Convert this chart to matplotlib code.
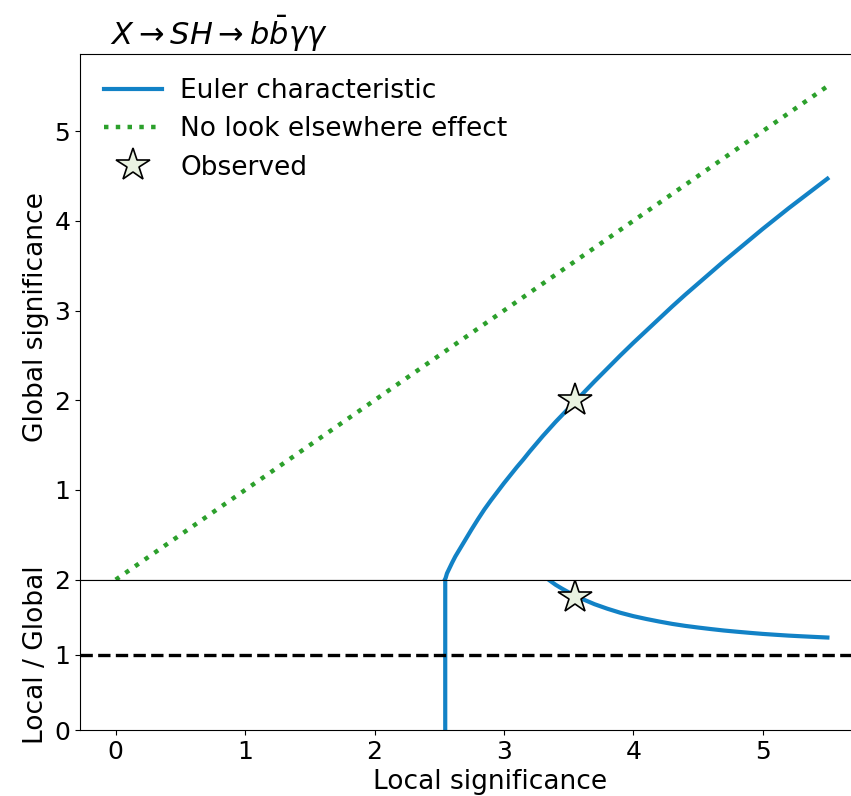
import numpy as np
import matplotlib
matplotlib.use("Agg")
import matplotlib.pyplot as plt
import matplotlib.transforms as mtransforms

# Local vs. global significance (Euler characteristic estimate)
local_sig = [2.540, 2.550, 2.560, 2.580, 2.600, 2.625, 2.650, 2.700, 2.750, 2.800,
             2.850, 2.900, 2.950, 3.000, 3.050, 3.100, 3.150, 3.200, 3.250, 3.300,
             3.350, 3.400, 3.450, 3.500, 3.550, 3.600, 3.700, 3.800, 3.900, 4.000,
             4.100, 4.200, 4.300, 4.400, 4.500, 4.600, 4.700, 4.800, 4.900, 5.000,
             5.100, 5.200, 5.300, 5.400, 5.500]
global_sig = [-0.010, 0.020, 0.070, 0.130, 0.190, 0.260, 0.320, 0.440, 0.560, 0.675,
              0.785, 0.885, 0.980, 1.075, 1.165, 1.255, 1.340, 1.430, 1.515, 1.600,
              1.680, 1.760, 1.835, 1.910, 1.990, 2.060, 2.210, 2.355, 2.500, 2.640,
              2.775, 2.910, 3.045, 3.175, 3.300, 3.425, 3.550, 3.670, 3.790, 3.910,
              4.025, 4.140, 4.250, 4.360, 4.470]

# No look-elsewhere effect: global equals local
nolee_x = [0.0, 5.5]

# Observed excess
obs_local = 3.55
obs_global = 2.00

title = r"$X \to SH \to b\bar{b}\gamma\gamma$"

blue = "#1282c6"
green = "#2ca02c"
star_face = "#e9f2e1"

local_arr = np.array(local_sig)
global_arr = np.array(global_sig)
ratio = local_arr / global_arr

W, H = 851, 796
fig = plt.figure(figsize=(W / 100, H / 100), dpi=100)

# The plotting area runs past the right edge of the canvas
x0, x1 = 80, 900
x_px_per_unit = 129.4
x_zero_px = 115.7
xlim = ((x0 - x_zero_px) / x_px_per_unit, (x1 - x_zero_px) / x_px_per_unit)

ax_top = fig.add_axes([x0 / W, (H - 579.7) / H, (x1 - x0) / W, (579.7 - 54) / H])
ax_bot = fig.add_axes([x0 / W, (H - 730) / H, (x1 - x0) / W, (730 - 579.7) / H],
                      sharex=ax_top)
for ax in (ax_top, ax_bot):
    ax.spines["right"].set_visible(False)

# Upper panel
ax_top.plot(local_sig, global_sig, color=blue, lw=3, label="Euler characteristic")
ax_top.plot(nolee_x, nolee_x, color=green, lw=3.2, ls=":",
            label="No look elsewhere effect")
ax_top.plot([obs_local], [obs_global], ls="none", marker="*", markersize=25,
            markerfacecolor=star_face, markeredgecolor="black", markeredgewidth=1.2,
            label="Observed", zorder=5)
ax_top.set_ylim(0, 5.86)
ax_top.set_yticks([1, 2, 3, 4, 5])
ax_top.set_ylabel("Global significance", fontsize=19)
ax_top.tick_params(axis="x", labelbottom=False, length=0)
ax_top.tick_params(axis="y", labelsize=18)
ax_top.legend(loc="upper left", fontsize=19, frameon=False,
              handlelength=2.2, handletextpad=0.7, labelspacing=0.47,
              borderaxespad=0.5)

trans = mtransforms.blended_transform_factory(ax_top.transAxes, ax_top.transAxes)
ax_top.text(0.036, 1.0, title, transform=trans, fontsize=22,
            ha="left", va="bottom")

# Lower panel: ratio local / global
ax_bot.plot(local_sig, ratio, color=blue, lw=3)
ax_bot.plot([obs_local], [obs_local / obs_global], ls="none", marker="*",
            markersize=25, markerfacecolor=star_face, markeredgecolor="black",
            markeredgewidth=1.2, zorder=5)
ax_bot.axhline(1, color="black", lw=2.4, ls="--")
ax_bot.set_ylim(0, 2)
ax_bot.set_yticks([0, 1, 2])
ax_bot.set_xlim(*xlim)
ax_bot.set_xticks([0, 1, 2, 3, 4, 5])
ax_bot.set_xlabel("Local significance", fontsize=19, labelpad=4)
ax_bot.set_ylabel("Local / Global", fontsize=19)
ax_bot.tick_params(labelsize=18)

fig.align_ylabels([ax_top, ax_bot])

fig.savefig("out.png", dpi=100)
